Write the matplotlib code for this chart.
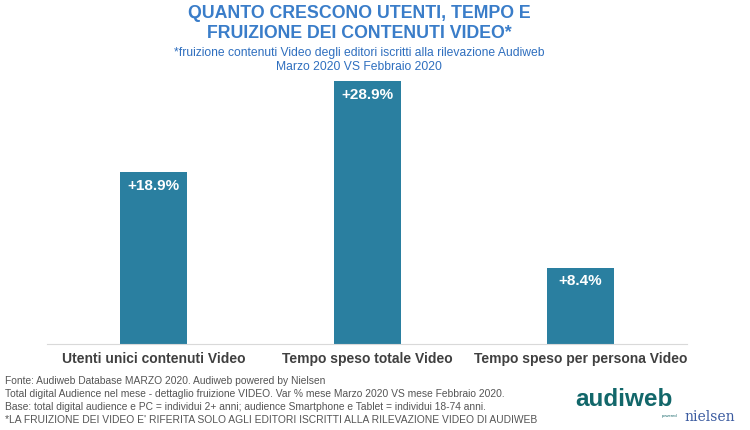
import matplotlib.pyplot as plt

categories = ['Utenti unici contenuti Video', 'Tempo speso totale Video', 'Tempo speso per persona Video']
values = [18.9, 28.9, 8.4]
labels = ['+18.9%', '+28.9%', '+8.4%']

title_lines = ['QUANTO CRESCONO UTENTI, TEMPO E', 'FRUIZIONE DEI CONTENUTI VIDEO*']
subtitle_lines = ['*fruizione contenuti Video degli editori iscritti alla rilevazione Audiweb',
                  'Marzo 2020 VS Febbraio 2020']
notes = ['Fonte: Audiweb Database MARZO 2020. Audiweb powered by Nielsen',
         'Total digital Audience nel mese - dettaglio fruizione VIDEO. Var % mese Marzo 2020 VS mese Febbraio 2020.',
         'Base: total digital audience e PC = individui 2+ anni; audience Smartphone e Tablet = individui 18-74 anni.',
         "*LA FRUIZIONE DEI VIDEO E' RIFERITA SOLO AGLI EDITORI ISCRITTI ALLA RILEVAZIONE VIDEO DI AUDIWEB"]

plt.rcParams['font.family'] = ['Liberation Sans', 'DejaVu Sans']

fig = plt.figure(figsize=(7.5, 4.3), dpi=100)
ax = fig.add_axes([0.063, 0.2, 0.853, 0.677])

bar_color = '#2a7fa0'
x = range(len(categories))
ax.bar(x, values, width=0.315, color=bar_color)
for i, v in enumerate(values):
    ax.text(i, v - 0.75, labels[i], ha='center', va='top', color='white',
            fontsize=11, fontweight='bold')

ax.set_xlim(-0.5, 2.5)
ax.set_ylim(0, 32)
ax.set_yticks([])
ax.set_xticks(list(x))
ax.set_xticklabels(categories, fontsize=10, fontweight='bold', color='#404040')
ax.tick_params(axis='x', length=0, pad=6)
for s in ['top', 'right', 'left']:
    ax.spines[s].set_visible(False)
ax.spines['bottom'].set_color('#d9d9d9')

# titles
cx = 359 / 750
fig.text(cx, 1 - 14 / 430, title_lines[0], ha='center', va='center',
         fontsize=12.8, fontweight='bold', color='#3a7dc9')
fig.text(cx, 1 - 34 / 430, title_lines[1], ha='center', va='center',
         fontsize=12.8, fontweight='bold', color='#3a7dc9')
fig.text(cx, 1 - 53 / 430, subtitle_lines[0], ha='center', va='center',
         fontsize=8.7, color='#2f6fbf')
fig.text(cx, 1 - 67 / 430, subtitle_lines[1], ha='center', va='center',
         fontsize=8.7, color='#2f6fbf')

# footnotes
for k, line in enumerate(notes):
    fig.text(5 / 750, 1 - (381 + 13 * k) / 430, line, ha='left', va='center',
             fontsize=7.4, color='#555555')

# logo
fig.text(575 / 750, 1 - 400 / 430, 'audiweb', ha='left', va='center',
         fontsize=17.5, fontweight='bold', color='#12676a')
fig.text(662 / 750, 1 - 416 / 430, 'powered', ha='left', va='center',
         fontsize=3, color='#1d6b6e')
fig.text(684 / 750, 1 - 417 / 430, 'nielsen', ha='left', va='center',
         fontsize=10, family='DejaVu Serif', color='#3b5ba0')

fig.savefig('out.png', dpi=100)
